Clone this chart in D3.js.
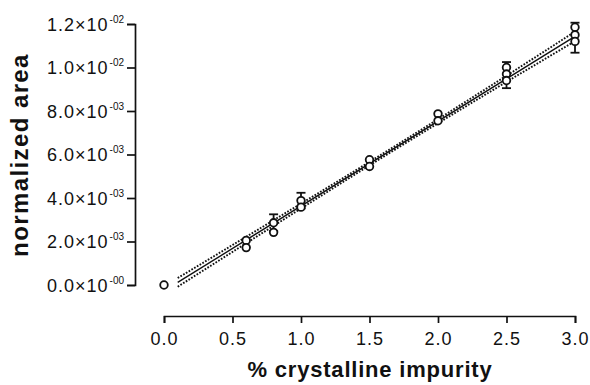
<!DOCTYPE html>
<html>
<head>
<meta charset="utf-8">
<script src="https://d3js.org/d3.v7.min.js"></script>
<style>
    body { margin: 0; background: #fff; }
    text { font-family: "Liberation Sans", Arial, sans-serif; fill: #111; }
    .tick-label { font-size: 18px; letter-spacing: 1px; }
    .axis-title { font-size: 22px; font-weight: bold; letter-spacing: 0.8px; }
</style>
</head>
<body>
<script>
// measured points (normalized area in units of 1e-3)
var pointX = [0, 0.6, 0.6, 0.8, 0.8, 1.0, 1.0, 1.5, 1.5, 2.0, 2.0, 2.5, 2.5, 2.5, 3.0, 3.0, 3.0];
var pointY = [0.0, 2.05, 1.72, 2.86, 2.42, 3.88, 3.58, 5.76, 5.45, 7.87, 7.55, 10.0, 9.70, 9.40, 11.85, 11.50, 11.20];

// error bars
var errX = [0.8, 1.0, 2.5, 3.0];
var errLow = [2.48, 3.52, 9.05, 10.68];
var errHigh = [3.25, 4.24, 10.25, 12.06];

// linear fit and its confidence band
var fitX = [0.1, 3.0];
var fitY = [0.12, 11.43];
var bandX = [0.1, 0.8, 1.6, 2.4, 3.0];
var bandUpper = [0.32, 2.98, 6.05, 9.22, 11.65];
var bandLower = [-0.08, 2.72, 5.89, 8.96, 11.21];

// axis ticks
var xTicks = [0, 0.5, 1.0, 1.5, 2.0, 2.5, 3.0];
var yTicks = [0, 2, 4, 6, 8, 10, 12];
var yTickMant = ["0.0", "2.0", "4.0", "6.0", "8.0", "1.0", "1.2"];
var yTickExp = ["-00", "-03", "-03", "-03", "-03", "-02", "-02"];

window.onload = drawChart();

function drawChart(){

    var width = 590,
        height = 385;

    var svg = d3.select("body")
        .append("svg")
        .attr("width", width)
        .attr("height", height);

    var x = d3.scaleLinear().domain([0, 3]).range([164, 575]);
    var y = d3.scaleLinear().domain([0, 12]).range([285, 24]);

    // y axis
    var yAxis = svg.append("g")
        .attr("transform", "translate(135,0)")
        .call(d3.axisLeft(y).tickValues(yTicks).tickSize(8).tickFormat(""));
    yAxis.selectAll("path, line").attr("stroke", "#111").attr("stroke-width", 1.7);

    var yLab = svg.selectAll(".ylab")
        .data(yTicks)
        .enter()
        .append("text")
        .attr("class", "tick-label")
        .attr("text-anchor", "end")
        .attr("x", 124)
        .attr("y", function(d){ return y(d) + 6.5; });
    yLab.append("tspan")
        .text(function(d, i){ return yTickMant[i] + "\u00d710"; });
    yLab.append("tspan")
        .attr("dy", -8)
        .attr("dx", 1)
        .style("font-size", "10px")
        .style("letter-spacing", "0px")
        .text(function(d, i){ return yTickExp[i]; });

    // x axis
    var xAxis = svg.append("g")
        .attr("transform", "translate(0,316)")
        .call(d3.axisBottom(x).tickValues(xTicks).tickSize(7).tickPadding(9).tickFormat(d3.format(".1f")));
    xAxis.selectAll("path, line").attr("stroke", "#111").attr("stroke-width", 1.7);
    xAxis.attr("font-size", null).attr("font-family", null);
    xAxis.selectAll("text")
        .attr("class", "tick-label")
        .attr("fill", "#111");

    // confidence band (dotted)
    var bandLine = function(vals){
        return d3.line()
            .x(function(d, i){ return x(bandX[i]); })
            .y(function(d){ return y(d); })
            .curve(d3.curveMonotoneX)(vals);
    };
    svg.selectAll(".band")
        .data([bandUpper, bandLower])
        .enter()
        .append("path")
        .attr("class", "band")
        .attr("d", bandLine)
        .attr("fill", "none")
        .attr("stroke", "#111")
        .attr("stroke-width", 1.9)
        .attr("stroke-dasharray", "1.7,1.5");

    // fit line
    svg.append("path")
        .datum(fitY)
        .attr("d", d3.line()
            .x(function(d, i){ return x(fitX[i]); })
            .y(function(d){ return y(d); }))
        .attr("fill", "none")
        .attr("stroke", "#111")
        .attr("stroke-width", 1.4);

    // error bars
    var err = svg.selectAll(".err")
        .data(errX)
        .enter()
        .append("g")
        .attr("class", "err")
        .attr("stroke", "#111")
        .attr("stroke-width", 1.8);
    err.append("line")
        .attr("x1", function(d){ return x(d); })
        .attr("x2", function(d){ return x(d); })
        .attr("y1", function(d, i){ return y(errLow[i]); })
        .attr("y2", function(d, i){ return y(errHigh[i]); });
    err.append("line")
        .attr("x1", function(d){ return x(d) - 4.5; })
        .attr("x2", function(d){ return x(d) + 4.5; })
        .attr("y1", function(d, i){ return y(errLow[i]); })
        .attr("y2", function(d, i){ return y(errLow[i]); });
    err.append("line")
        .attr("x1", function(d){ return x(d) - 4.5; })
        .attr("x2", function(d){ return x(d) + 4.5; })
        .attr("y1", function(d, i){ return y(errHigh[i]); })
        .attr("y2", function(d, i){ return y(errHigh[i]); });

    // points
    svg.selectAll(".pt")
        .data(pointY)
        .enter()
        .append("circle")
        .attr("class", "pt")
        .attr("cx", function(d, i){ return x(pointX[i]); })
        .attr("cy", function(d){ return y(d); })
        .attr("r", 3.8)
        .attr("fill", "#fff")
        .attr("stroke", "#111")
        .attr("stroke-width", 1.8);

    // titles
    svg.append("text")
        .attr("class", "axis-title")
        .style("font-size", "24px")
        .style("letter-spacing", "1.4px")
        .attr("text-anchor", "middle")
        .attr("transform", "translate(28,155) rotate(-90)")
        .text("normalized area");

    svg.append("text")
        .attr("class", "axis-title")
        .attr("text-anchor", "middle")
        .attr("x", 370)
        .attr("y", 377)
        .text("% crystalline impurity");
};
</script>
</body>
</html>
